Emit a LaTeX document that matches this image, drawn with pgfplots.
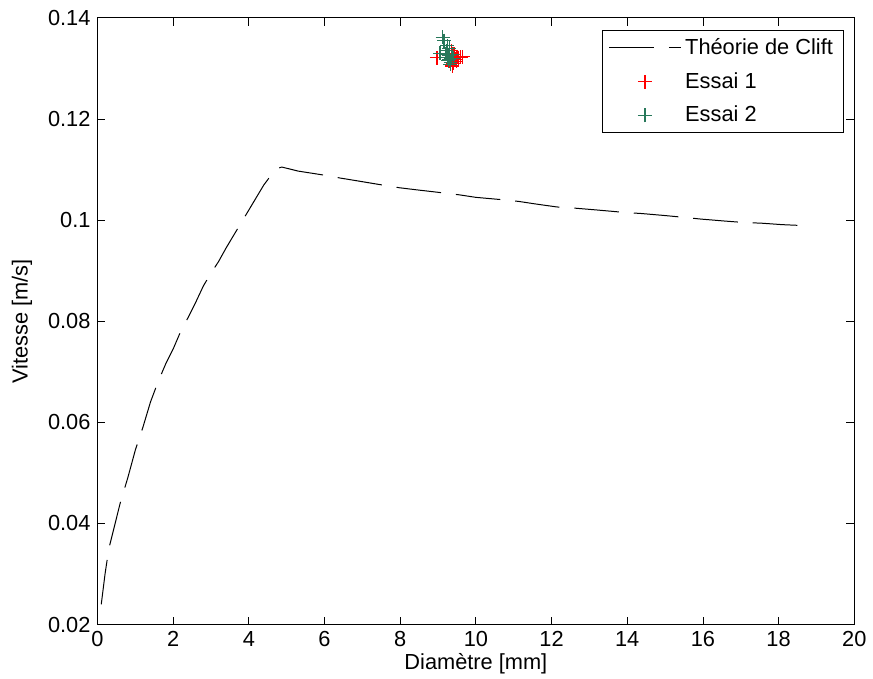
\documentclass[border=0pt]{standalone}
\usepackage{pgfplots}
\pgfplotsset{compat=1.18}
\usepackage{fontspec}
\setmainfont{Liberation Sans}
\definecolor{essaigreen}{RGB}{40,120,90}
\pgfplotsset{
  longline/.style={legend image code/.code={\draw[##1] (0bp,0bp) -- (36bp,0bp);}},
  centermark/.style={legend image code/.code={\draw[draw=#1, line width=0.6bp, solid] (14.5bp,0bp) -- (21.5bp,0bp) (18bp,-3.5bp) -- (18bp,3.5bp);}},
}
\begin{document}
\begin{tikzpicture}
\begin{axis}[
  scale only axis,
  width=380.5bp, height=305bp,
  xmin=0, xmax=20, ymin=0.02, ymax=0.14,
  xtick={0,2,...,20},
  ytick={0.02,0.04,0.06,0.08,0.1,0.12,0.14},
  yticklabels={0.02,0.04,0.06,0.08,0.1,0.12,0.14},
  /pgf/number format/assume math mode=true,
  tick align=inside,
  major tick length=4bp,
  tick style={black, line width=0.4bp},
  axis line style={line width=0.4bp},
  ticklabel style={font=\fontsize{11}{13}\selectfont},
  label style={font=\fontsize{11}{13}\selectfont, inner sep=0pt},
  xlabel={Diamètre [mm]},
  ylabel={Vitesse [m/s]},
  xlabel style={at={(axis description cs:0.5,-0.0639)}, anchor=center},
  ylabel style={at={(axis description cs:-0.0999,0.5)}, anchor=center},
  clip=false,
  legend style={at={(axis description cs:0.9855,0.98)}, anchor=north east,
    draw=black, line width=0.4bp, font=\fontsize{11}{13}\selectfont,
    inner xsep=3bp, inner ysep=2bp, row sep=3.5bp,
    cells={anchor=west}},
]
\path (axis description cs:-0.1288,-0.0885) rectangle (axis description cs:1.0184,1.0295);
\addplot[black, line width=0.5bp, dash pattern=on 22.5bp off 7.5bp, longline]
  coordinates {
(0.1,0.024) (0.2,0.030) (0.3,0.035) (0.4,0.038) (0.6,0.044) (0.8,0.049)
(1.0,0.0545) (1.2,0.059) (1.4,0.064) (1.6,0.068) (1.8,0.0715) (2.0,0.0745)
(2.2,0.078) (2.4,0.0808) (2.6,0.0838) (2.8,0.087) (3.0,0.0895) (3.2,0.0918)
(3.4,0.0945) (3.6,0.097) (3.8,0.0995) (4.0,0.102) (4.2,0.1045) (4.4,0.107)
(4.6,0.109) (4.75,0.1102) (4.87,0.1105)
(5.3,0.1097) (5.9,0.1090) (6.43,0.1083) (6.84,0.1078) (7.4,0.1071) (7.98,0.1064)
(8.42,0.1060) (9.0,0.1055) (9.56,0.1050) (10.0,0.1045) (10.6,0.1041) (11.13,0.1037)
(11.57,0.1032) (12.14,0.1026) (12.4,0.1025) (13.2,0.1020) (13.96,0.1015) (14.38,0.1013)
(15.0,0.1009) (15.56,0.1005) (15.95,0.1002) (16.6,0.0998) (17.13,0.0995) (17.53,0.0994)
(18.1,0.0991) (18.71,0.0989)
};
\addlegendentry{Théorie de Clift}
\addplot[only marks, mark=+, mark size=3.5bp, red, line width=0.6bp, centermark=red]
  coordinates {
(8.97,0.1321) (9.25,0.1330) (9.35,0.1325) (9.40,0.1322) (9.45,0.1318) (9.50,0.1323)
(9.55,0.1321) (9.30,0.1315) (9.35,0.1335) (9.42,0.1328) (9.60,0.1322) (9.40,0.1310)
(9.30,0.1330) (9.65,0.1323) (9.48,0.1314) (9.38,0.1305)
};
\addlegendentry{Essai 1}
\addplot[only marks, mark=+, mark size=3.5bp, essaigreen, line width=0.6bp, centermark=essaigreen]
  coordinates {
(9.12,0.1362) (9.16,0.1355) (9.05,0.1330) (9.20,0.1328) (9.25,0.1322) (9.30,0.1318)
(9.28,0.1326) (9.35,0.1320) (9.32,0.1308) (9.22,0.1335) (9.30,0.1340) (9.38,0.1328)
(9.27,0.1315) (9.33,0.1312) (9.40,0.1320) (9.24,0.1345)
};
\addlegendentry{Essai 2}
\end{axis}
\end{tikzpicture}
\end{document}
